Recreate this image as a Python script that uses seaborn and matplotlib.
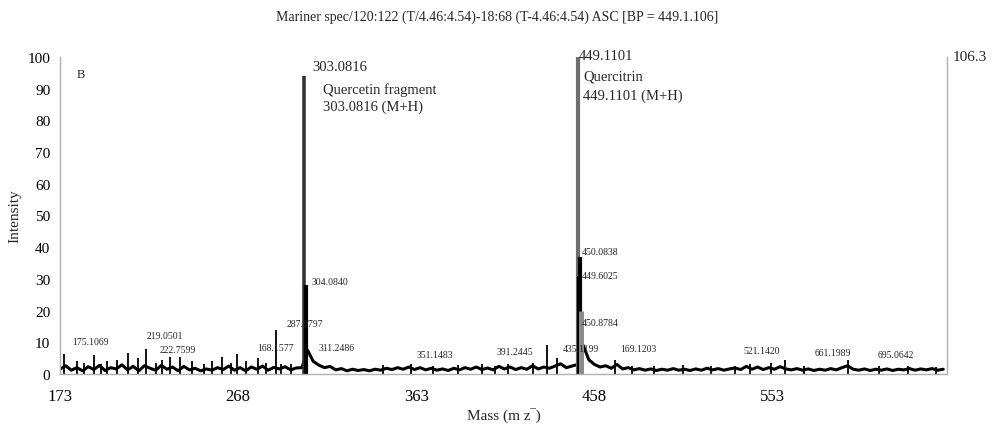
import numpy as np
import pandas as pd
import matplotlib
matplotlib.use("Agg")
import matplotlib.pyplot as plt
import seaborn as sns
from matplotlib.ticker import MultipleLocator

# baseline profile, one reading every 3 m/z from 173
base_start = 173
base_step = 3
base_int = [
    1.5, 2.6, 1.2, 2.0, 1.0, 2.3, 1.4, 2.7, 1.1, 2.0,
    1.6, 2.9, 1.3, 2.4, 1.0, 2.6, 1.8, 1.2, 2.7, 1.5,
    2.2, 1.0, 2.4, 1.3, 1.8, 1.0, 1.6, 1.2, 2.0, 1.4,
    2.5, 1.2, 2.0, 1.0, 2.2, 1.5, 2.5, 1.2, 2.1, 1.6,
    2.3, 1.3, 1.9,
    2.0, 7.5, 4.0, 2.8, 2.0, 2.4, 1.3, 1.7, 1.0, 1.5,
    1.1, 1.4, 1.0, 1.5, 1.2, 1.8, 1.4, 2.0, 1.5, 2.2,
    1.4, 2.0, 1.3, 1.8, 1.2, 1.6, 1.1, 1.8, 1.3, 2.0,
    1.5, 2.2, 1.4, 1.9, 1.3, 2.4, 1.6, 2.2, 1.4, 2.0,
    1.5, 2.6, 1.6, 2.2, 1.8, 2.5, 3.2, 2.0, 2.5,
    3.0, 9.0, 4.5, 3.0, 2.2, 2.6, 1.8, 3.0, 1.6, 2.0,
    1.3, 1.7, 1.2, 1.6, 1.1, 1.5, 1.2, 1.7, 1.2, 1.5,
    1.1, 1.6, 1.2, 1.8, 1.3, 1.7, 1.2, 1.6, 1.9, 1.4,
    2.4, 1.5, 2.2, 1.4, 2.0, 1.5, 2.3, 1.6, 1.3, 1.7,
    1.2, 1.6, 1.1, 1.5, 1.2, 1.7, 1.3, 2.0, 2.6, 1.5,
    1.2, 1.6, 1.1, 1.5, 1.2, 1.6, 1.1, 1.5, 1.3, 1.7,
    1.2, 1.6, 1.3, 1.7, 1.2, 1.5,
]

# small peaks
small_mz = [175.3, 182.2, 186.0, 191.3, 195.0, 198.0, 203.5, 209.4, 214.7, 219.0,
            224.0, 227.5, 231.8, 237.0, 243.5, 250.0, 254.0, 259.5, 264.0, 267.5,
            272.0, 278.7, 283.0, 287.98, 291.0, 296.0,
            345.0, 360.0, 372.0, 385.0, 398.0, 405.0, 412.0, 425.0, 432.6, 438.0,
            469.1, 478.0, 490.0, 505.0, 520.0, 533.0, 541.0, 552.0, 559.4, 570.0,
            593.0, 610.0, 625.0, 640.0]
small_int = [6.3, 4.0, 3.5, 6.0, 3.0, 4.0, 4.5, 6.5, 5.0, 8.0,
             3.5, 4.5, 5.5, 5.5, 4.0, 3.0, 4.0, 5.5, 3.5, 6.3,
             4.0, 5.0, 3.5, 14.0, 3.0, 3.0,
             2.8, 3.0, 2.6, 2.8, 3.2, 2.6, 3.0, 3.4, 9.3, 5.0,
             4.5, 2.6, 2.4, 2.8, 2.6, 2.5, 3.2, 3.4, 4.5, 2.6,
             4.5, 2.4, 2.5, 2.2]

# major peaks
major_mz = [303.0816, 304.0840, 449.1101, 450.0838, 449.6025, 450.8784]
major_int = [94.0, 28.0, 100.0, 37.0, 31.0, 20.0]

# peak labels
label_txt = ["175.1069", "219.0501", "222.7599", "168.1577", "287.9797", "304.0840",
             "311.2486", "351.1483", "391.2445", "435.1199", "169.1203",
             "521.1420", "661.1989", "695.0642"]
label_mz = [189.2, 229.1, 236.0, 287.7, 303.7, 317.0, 320.7, 372.7, 415.3, 451.0,
            481.4, 547.2, 585.0, 618.6]
label_int = [10.4, 12.0, 7.6, 8.2, 16.0, 29.3, 8.5, 6.3, 7.0, 8.1, 7.9, 7.3, 6.9, 6.3]

side_txt = ["450.0838", "449.6025", "450.8784"]
side_int = [38.5, 31.0, 16.4]

x_ticks = [173, 268, 363, 458, 553]

sns.set_style("white")
plt.rcParams["font.family"] = ["Liberation Serif", "DejaVu Serif"]

fig = plt.figure(figsize=(9.94, 4.27), dpi=100)
ax = fig.add_axes([0.0604, 0.1218, 0.8923, 0.7424])

base_mz = base_start + base_step * np.arange(len(base_int))
df = pd.DataFrame({"mz": base_mz, "intensity": base_int})
sns.lineplot(data=df, x="mz", y="intensity", color="black", lw=2.2, ax=ax)

ax.vlines(small_mz, 0, small_int, color="black", lw=1.3)

major_col = ["#333333", "black", "#6e6e6e", "black", "black", "#8a8a8a"]
major_lw = [2.6, 3.0, 3.0, 3.0, 3.0, 3.6]
for m, h, c, w in zip(major_mz, major_int, major_col, major_lw):
    ax.vlines(m, 0, h, color=c, lw=w)

small_font = 7
for t, m, h in zip(label_txt, label_mz, label_int):
    ax.text(m, h, t, ha="center", va="center", fontsize=small_font)
for t, h in zip(side_txt, side_int):
    ax.text(451.3, h, t, ha="left", va="center", fontsize=small_font)

big_font = 10.5
ax.text(307.4, 97.0, "303.0816", ha="left", va="center", fontsize=big_font)
ax.text(313.3, 90.0, "Quercetin fragment", ha="left", va="center", fontsize=big_font)
ax.text(313.3, 84.3, "303.0816 (M+H)", ha="left", va="center", fontsize=big_font)
ax.text(449.6, 100.5, "449.1101", ha="left", va="center", fontsize=big_font,
        clip_on=False)
ax.text(452.0, 94.0, "Quercitrin", ha="left", va="center", fontsize=big_font)
ax.text(452.0, 88.0, "449.1101 (M+H)", ha="left", va="center", fontsize=big_font)
ax.text(184, 94.5, "B", ha="center", va="center", fontsize=9)

ax.set_xlim(173, 646)
ax.set_ylim(0, 100)
ax.set_xticks(x_ticks)
ax.xaxis.set_minor_locator(MultipleLocator(47.5))
ax.set_yticks(range(0, 101, 10))
ax.yaxis.set_minor_locator(MultipleLocator(2))

ax.spines["top"].set_visible(False)
for s in ["left", "bottom", "right"]:
    ax.spines[s].set_color("#b0b0b0")
    ax.spines[s].set_linewidth(1.0)

ax.tick_params(axis="both", which="both", colors="#b0b0b0", labelcolor="black",
               direction="out")
ax.tick_params(axis="x", which="major", length=4, labelsize=12, pad=6)
ax.tick_params(axis="x", which="minor", length=3)
ax.tick_params(axis="y", which="major", length=4, labelsize=11, pad=3)
ax.tick_params(axis="y", which="minor", length=2)

ax.text(1.006, 1.0, "106.3", transform=ax.transAxes, ha="left", va="center",
        fontsize=11)

ax.set_xlabel("Mass (m z\u203e)", fontsize=11, labelpad=2)
ax.set_ylabel("Intensity", fontsize=11, labelpad=4)
fig.suptitle("Mariner spec/120:122 (T/4.46:4.54)-18:68 (T-4.46:4.54) ASC [BP = 449.1.106]",
             fontsize=10, y=0.975)

fig.savefig("out.png", dpi=100)
